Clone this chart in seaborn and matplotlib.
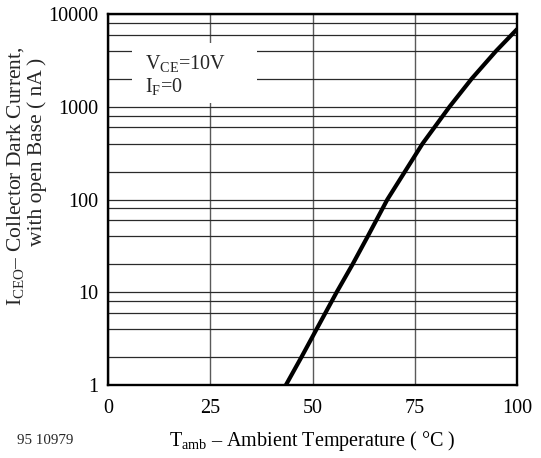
import matplotlib
matplotlib.use("Agg")
import matplotlib.pyplot as plt
from matplotlib.patches import Rectangle
from matplotlib.ticker import LogLocator, NullFormatter
import seaborn as sns
import pandas as pd

# Collector dark current vs ambient temperature (VCE = 10 V, IF = 0)
temperature_c = [43.5, 47.3, 51.0, 55.9, 59.8, 63.5, 68.3, 72.6, 76.9, 83.5, 88.9, 94.9, 100.0]
dark_current_na = [1, 2, 4, 10, 20, 40, 100, 200, 400, 1000, 2000, 4000, 6850]

x_ticks = [0, 25, 50, 75, 100]
x_tick_labels = ["0", "25", "50", "75", "100"]
y_ticks = [1, 10, 100, 1000, 10000]
y_tick_labels = ["1", "10", "100", "1000", "10000"]

sns.set_theme(style="white")
plt.rcParams["font.family"] = ["Liberation Serif", "DejaVu Serif"]
plt.rcParams["mathtext.fontset"] = "custom"
plt.rcParams["mathtext.rm"] = "Liberation Serif"
plt.rcParams["mathtext.it"] = "Liberation Serif:italic"
plt.rcParams["mathtext.bf"] = "Liberation Serif:bold"

FS = 14.5
W, H = 541, 458
fig = plt.figure(figsize=(W / 100, H / 100), dpi=100)
ax = fig.add_axes([108 / W, 1 - 385 / H, (517 - 108) / W, (385 - 14) / H])

df = pd.DataFrame({"T": temperature_c, "I": dark_current_na})
sns.lineplot(data=df, x="T", y="I", sort=False, color="black", linewidth=3.0,
             ax=ax, zorder=3)

ax.set_yscale("log")
ax.set_xlim(0, 100)
ax.set_ylim(1, 10000)

ax.set_xticks(x_ticks)
ax.set_xticklabels(x_tick_labels)
ax.set_yticks(y_ticks)
ax.set_yticklabels(y_tick_labels)
ax.yaxis.set_minor_locator(LogLocator(base=10, subs=[2, 4, 6, 8]))
ax.yaxis.set_minor_formatter(NullFormatter())

ax.tick_params(axis="both", which="both", length=0, labelsize=FS, colors="black")
ax.tick_params(axis="x", pad=10)
ax.tick_params(axis="y", pad=7)

ax.set_axisbelow(True)
ax.grid(True, which="both", axis="y", color="#2a2a2a", linewidth=0.9)
ax.grid(True, which="major", axis="x", color="#5a5a5a", linewidth=1.0)

for s in ax.spines.values():
    s.set_color("black")
    s.set_linewidth(1.7)

# condition box
ax.add_patch(Rectangle((0.0587, 0.760), 0.305, 0.162, transform=ax.transAxes,
                       facecolor="white", edgecolor="none", zorder=1))
ax.text((145 - 108) / 409, (385 - 63) / 371, r"V$_{\mathrm{CE}}$=10V",
        transform=ax.transAxes, fontsize=FS, ha="left", va="center", zorder=4)
ax.text((145 - 108) / 409, (385 - 86) / 371, r"I$_{\mathrm{F}}$=0",
        transform=ax.transAxes, fontsize=FS, ha="left", va="center", zorder=4)

ax.set_xlabel(r"T$_{\mathrm{amb}}$ – Ambient Temperature ( °C )", fontsize=FS,
              labelpad=8, color="black")
ax.set_ylabel("")

YFS = 15.5
fig.text(16 / W, 1 - 176 / H, r"I$_{\mathrm{CEO}}$– Collector Dark Current,",
         rotation=90, fontsize=YFS, ha="center", va="center")
fig.text(37 / W, 1 - 152 / H, "with open Base ( nA )",
         rotation=90, fontsize=YFS, ha="center", va="center")

fig.text(17 / W, 1 - 440 / H, "95 10979", fontsize=10.8, ha="left", va="center")

fig.savefig("out.png", dpi=100, facecolor="white")
